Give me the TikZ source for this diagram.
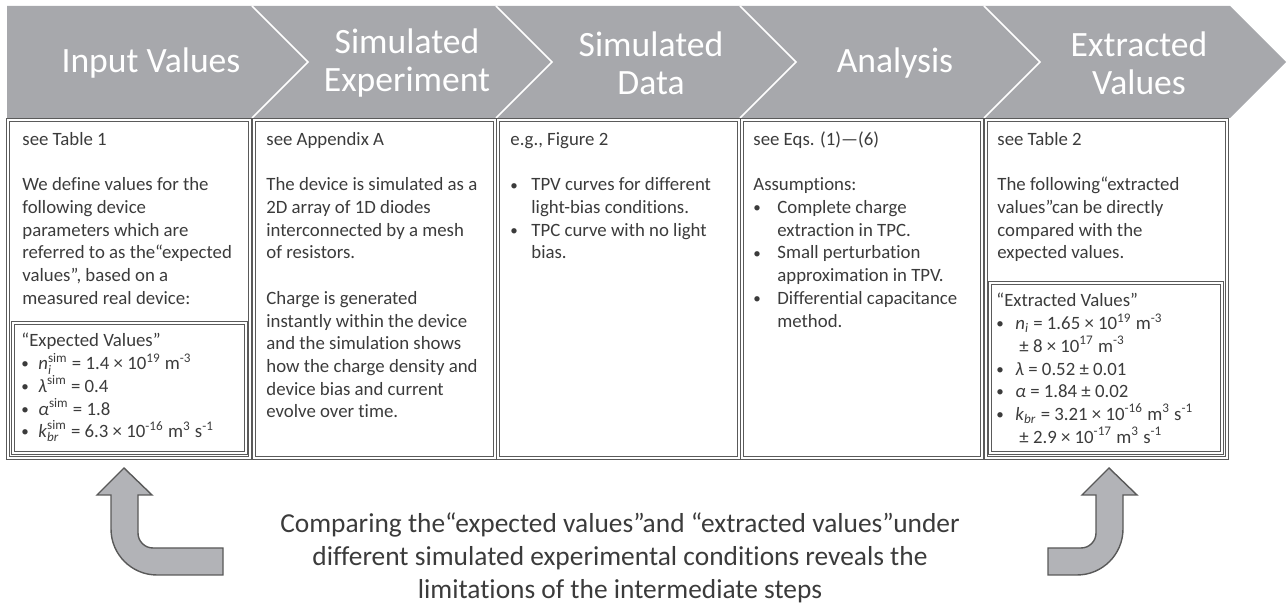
\documentclass[tikz,border=0pt]{standalone}
\usepackage{fontspec}
\usepackage{amsmath}
\usepackage{graphicx}
\setmainfont{Carlito}[Ligatures={NoCommon}]
\definecolor{bandgray}{HTML}{A7A8AC}
\definecolor{boxline}{HTML}{5A5A5A}
\definecolor{txtgray}{HTML}{3B3B3B}
\definecolor{arrowfill}{HTML}{B2B3B7}
\definecolor{arrowline}{HTML}{595959}
\newcommand\sps[1]{\textsuperscript{#1}}
\newcommand\bul[2]{\makebox[#1][l]{\raisebox{0.4pt}{\scalebox{0.8}{•}}}#2}
\newcommand\cnt[2]{\hspace*{#1}#2}
\newcommand\ptext[2]{\parbox[t]{#1}{\raggedright #2}}
\begin{document}
\begin{tikzpicture}[x=0.5pt,y=-0.5pt,
  band/.style={fill=bandgray},
  sep/.style={draw=white, line width=0.8pt},
  chev/.style={text=white, align=center, inner sep=0pt,
    font=\fontsize{17.8pt}{19pt}\selectfont},
  panel/.style={draw=boxline, line width=0.5pt, double=white, double distance=1pt},
  body/.style={anchor=base west, inner sep=0pt, text=txtgray,
    font=\fontsize{9.4pt}{11.35pt}\selectfont},
  bigarrow/.style={fill=arrowfill, draw=arrowline, line width=0.7pt, line join=miter},
  note/.style={text=txtgray, align=center, inner sep=0pt,
    font=\fontsize{13.7pt}{16.5pt}\selectfont}]
\useasboundingbox (0,0) rectangle (1287,608);
% chevron band
\fill[band] (7,6) -- (1230,6) -- (1286,62) -- (1230,118) -- (7,118) -- cycle;
\foreach \x in {252,496,740,984} \draw[sep] (\x,6) -- (\x+56,62) -- (\x,118);
\node[chev] (c1) at (151,63) {Input Values};
\node[chev] (c2) at (407,63) {Simulated\\Experiment};
\node[chev] (c3) at (651,63) {Simulated\\Data};
\node[chev] (c4) at (895,63) {Analysis};
\node[chev] (c5) at (1139,63) {Extracted\\Values};
% panels
\draw[panel] (8,120) rectangle (250,458);
\draw[panel] (254,120) rectangle (495,458);
\draw[panel] (498,120) rectangle (739,458);
\draw[panel] (742,120) rectangle (982,458);
\draw[panel] (986,120) rectangle (1227,458);
\draw[panel] (13,323) rectangle (246,453);
\draw[panel] (990,283) rectangle (1222,453);
% panel texts
\node[body] (t1) at (22,145.5) {\ptext{115pt}{see Table 1\\[11.35pt]
We define values for the\\
following device\\
parameters which are\\
referred to as the“expected\\
values”, based on a\\
measured real device:}};
\node[body] (e1) at (21,347) {\ptext{115pt}{“Expected Values”\\
\bul{8.5pt}{$\text{\textit{n}}_{\text{\textit{i}}}^{\text{sim}}$ = 1.4 × 10\sps{19} m\sps{-3}}\\
\bul{8.5pt}{$\text{\textit{λ}}^{\text{sim}}$ = 0.4}\\
\bul{8.5pt}{$\text{\textit{α}}^{\text{sim}}$ = 1.8}\\
\bul{8.5pt}{$\text{\textit{k}}_{\text{\textit{br}}}^{\text{sim}}$ = 6.3 × 10\sps{-16} m\sps{3} s\sps{-1}}}};
\node[body] (t2) at (266,145.5) {\ptext{115pt}{see Appendix A\\[11.35pt]
The device is simulated as a\\
2D array of 1D diodes\\
interconnected by a mesh\\
of resistors.\\[11.35pt]
Charge is generated\\
instantly within the device\\
and the simulation shows\\
how the charge density and\\
device bias and current\\
evolve over time.}};
\node[body] (t3) at (510,145.5) {\ptext{115pt}{e.g., Figure 2\\[11.35pt]
\bul{10.5pt}{TPV curves for different}\\
\cnt{10.5pt}{light-bias conditions.}\\
\bul{10.5pt}{TPC curve with no light}\\
\cnt{10.5pt}{bias.}}};
\node[body] (t4) at (753,145.5) {\ptext{115pt}{see Eqs. (1)—(6)\\[11.35pt]
Assumptions:\\
\bul{12pt}{Complete charge}\\
\cnt{12pt}{extraction in TPC.}\\
\bul{12pt}{Small perturbation}\\
\cnt{12pt}{approximation in TPV.}\\
\bul{12pt}{Differential capacitance}\\
\cnt{12pt}{method.}}};
\node[body] (t5) at (997,145.5) {\ptext{115pt}{see Table 2\\[11.35pt]
The following“extracted\\
values”can be directly\\
compared with the\\
expected values.}};
\node[body] (e5) at (996,307) {\ptext{115pt}{“Extracted Values”\\
\bul{9.5pt}{$\text{\textit{n}}_{\text{\textit{i}}}$ = 1.65 × 10\sps{19} m\sps{-3}}\\
\cnt{11.5pt}{± 8 × 10\sps{17} m\sps{-3}}\\
\bul{9.5pt}{\textit{λ} = 0.52 ± 0.01}\\
\bul{9.5pt}{\textit{α} = 1.84 ± 0.02}\\
\bul{9.5pt}{$\text{\textit{k}}_{\text{\textit{br}}}$ = 3.21 × 10\sps{-16} m\sps{3} s\sps{-1}}\\
\cnt{11.5pt}{± 2.9 × 10\sps{-17} m\sps{3} s\sps{-1}}}};
% return arrows
\draw[bigarrow] (124,468) -- (152,495) -- (138,495) -- (138,533)
  .. controls (138,541.3) and (144.7,548) .. (153,548) -- (223,548) -- (223,575) -- (157,575)
  .. controls (131.6,575) and (111,554.4) .. (111,529) -- (111,495) -- (97,495) -- cycle;
\draw[bigarrow] (1109,468) -- (1137,495) -- (1123,495) -- (1123,529)
  .. controls (1123,554.4) and (1102.4,575) .. (1077,575) -- (1048,575) -- (1048,548) -- (1081,548)
  .. controls (1089.3,548) and (1096,541.3) .. (1096,533) -- (1096,495) -- (1082,495) -- cycle;
% bottom note
\node[note] (n) at (620,558) {Comparing the“expected values”and “extracted values”under\\
different simulated experimental conditions reveals the\\
limitations of the intermediate steps};
\end{tikzpicture}
\end{document}
